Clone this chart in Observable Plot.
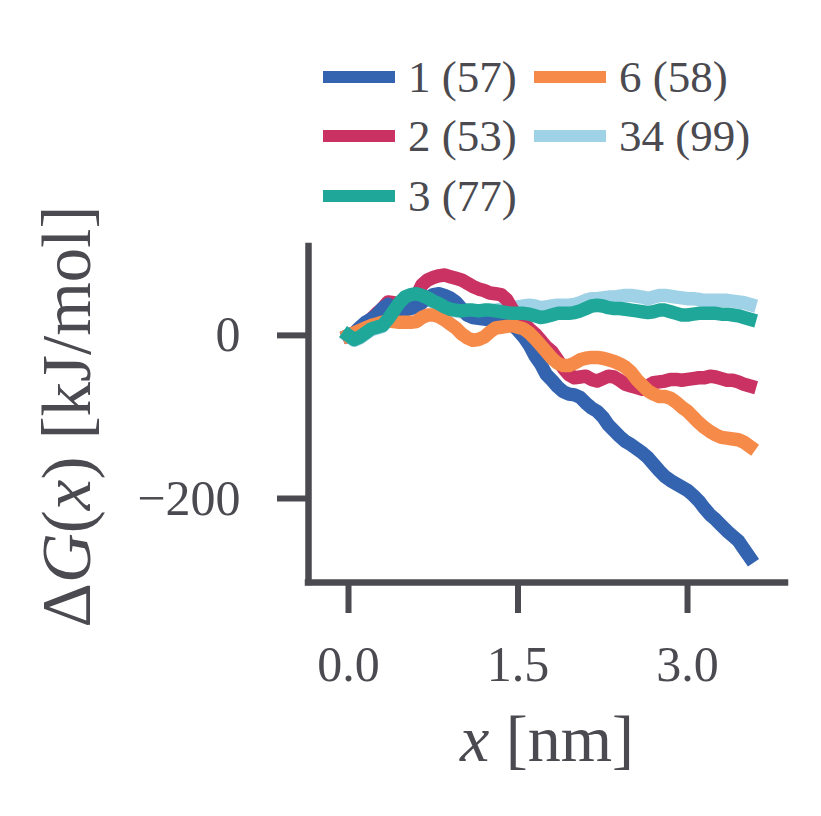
<!DOCTYPE html>
<html><head><meta charset="utf-8">
<script src="https://cdn.jsdelivr.net/npm/d3@7"></script>
<script src="https://cdn.jsdelivr.net/npm/@observablehq/plot@0.6"></script>
<style>
body{margin:0;background:#fff;}
#wrap{position:relative;width:821px;height:816px;}
#legend{position:absolute;left:323px;top:47px;display:grid;grid-auto-flow:column;grid-template-rows:repeat(3,59.5px);grid-template-columns:211px auto;font-family:"Liberation Serif",serif;font-size:45px;color:#4a4a50;}
.item{display:flex;align-items:center;white-space:pre;}
.sw{width:72px;height:12px;margin-right:13px;}
</style></head><body><div id="wrap"><div id="legend"></div><div id="chart"></div></div>
<script>
const xs = [0,0.05,0.1,0.15,0.2,0.25,0.3,0.35,0.4,0.45,
  0.5,0.55,0.6,0.65,0.7,0.75,0.8,0.85,0.9,0.95,
  1.0,1.05,1.1,1.15,1.2,1.25,1.3,1.35,1.4,1.45,
  1.5,1.55,1.6,1.65,1.7,1.75,1.8,1.85,1.9,1.95,
  2.0,2.05,2.1,2.15,2.2,2.25,2.3,2.35,2.4,2.45,
  2.5,2.55,2.6,2.65,2.7,2.75,2.8,2.85,2.9,2.95,
  3.0,3.05,3.1,3.15,3.2,3.25,3.3,3.35,3.4,3.45,
  3.5,3.55];
const g1 = [0,3,10,16,20,25,33,38,34,30,
  31,33,35,40,46,50,51,49,46,41,
  33,25,22,21,20,19,18,17,16,13,
  6,-2,-12,-25,-35,-48,-55,-63,-69,-72,
  -73,-76,-83,-89,-93,-100,-110,-117,-124,-130,
  -134,-139,-144,-150,-158,-166,-173,-178,-182,-186,
  -190,-196,-203,-212,-220,-226,-233,-240,-246,-252,
  -262,-272];
const g2 = [0,3,8,15,20,27,33,41,40,37,
  38,42,48,62,68,71,73,74,72,70,
  68,64,60,57,55,52,51,50,44,32,
  22,15,8,2,-6,-14,-20,-30,-40,-48,
  -52,-51,-50,-54,-56,-53,-50,-51,-55,-60,
  -62,-64,-66,-62,-58,-57,-56,-54,-54,-55,
  -54,-53,-52,-52,-50,-51,-53,-55,-55,-57,
  -60,-62];
const g3 = [0,-5,-2,3,8,10,12,20,30,40,
  47,50,51,49,46,42,39,35,32,31,
  30,31,31,30,31,31,30,29,28,27,
  27,27,26,24,22,23,25,27,27,27,
  28,30,33,36,37,36,34,33,33,32,
  31,30,29,28,29,31,31,29,27,25,
  25,26,27,27,27,27,26,26,25,24,
  22,20];
const g6 = [0,3,6,9,12,14,16,18,17,16,
  16,16,17,22,25,25,23,19,14,9,
  2,-3,-6,-5,-2,4,9,10,11,12,
  10,8,3,-4,-12,-20,-28,-34,-37,-37,
  -34,-30,-28,-27,-27,-28,-30,-32,-35,-39,
  -45,-54,-61,-68,-72,-75,-75,-77,-82,-88,
  -93,-100,-107,-113,-118,-122,-125,-126,-127,-128,
  -131,-136];
const g34 = [-1,-6,-3,2,7,9,11,19,29,39,
  46,49,50,48,45,41,38,34,31,30,
  29,30,30,29,30,30,31,32,33,34,
  35,36,37,36,34,35,36,37,37,37,
  38,40,43,45,45,46,47,47,48,49,
  49,48,47,45,47,49,49,48,47,46,
  45,45,44,43,43,43,43,43,42,41,
  40,38];

const seriesNames = ["1 (57)","2 (53)","3 (77)","6 (58)","34 (99)"];
const seriesValues = [g1,g2,g3,g6,g34];
const seriesColors = ["#3464b0","#c93262","#1fa799","#f68a48","#9fd2e7"];
const drawOrder = [4,1,0,3,2];
const yTicks = [-200,0];
const xTicks = [0,1.5,3.0];
const xDomain = [-0.354,3.867];
const yDomain = [-303,109];
const axisColor = "#4a4a50";

// legend
const legend = document.getElementById("legend");
seriesNames.forEach((n,i)=>{
  const d=document.createElement("div");d.className="item";
  d.innerHTML=`<span class="sw" style="background:${seriesColors[i]}"></span><span>${n}</span>`;
  legend.appendChild(d);
});

const rows = [];
seriesNames.forEach((n,i)=>xs.forEach((x,j)=>rows.push({series:n,x,y:seriesValues[i][j]})));

const lineMarks = drawOrder.map(i=>Plot.line(rows.filter(r=>r.series===seriesNames[i]),{x:"x",y:"y",stroke:seriesColors[i],strokeWidth:13.5,strokeLinecap:"square",strokeLinejoin:"round"}));

const svg = Plot.plot({
  width:821,height:816,
  marginTop:246,marginRight:36,marginBottom:234,marginLeft:308,
  style:{fontFamily:"Liberation Serif, serif",color:axisColor,background:"#fff"},
  x:{domain:xDomain},
  y:{domain:yDomain},
  marks:[
    ...lineMarks,
    Plot.ruleX([xDomain[0]],{y1:yDomain[0],y2:yDomain[1],stroke:axisColor,strokeWidth:6.5,strokeLinecap:"square"}),
    Plot.ruleY([yDomain[0]],{x1:xDomain[0],x2:xDomain[1],stroke:axisColor,strokeWidth:6.5,strokeLinecap:"square"}),
    Plot.axisX({ticks:xTicks,tickSize:31,tickPadding:32,strokeWidth:6,fontSize:50,tickFormat:d=>d.toFixed(1),label:null}),
    Plot.axisY({ticks:yTicks,tickSize:31,tickPadding:37,strokeWidth:6,fontSize:50,tickFormat:d=>d<0?"\u2212"+Math.abs(d):String(d),label:null}),
    Plot.text(["x [nm]"],{frameAnchor:"bottom",lineAnchor:"bottom",dy:178,fontSize:66,fill:axisColor}),
    Plot.text(["\u0394G(x) [kJ/mol]"],{frameAnchor:"left",textAnchor:"middle",lineAnchor:"bottom",rotate:-90,dx:-219,dy:2,fontSize:69,fill:axisColor})
  ]
});
d3.select(svg).selectAll("text").each(function(){
  const t=this.textContent;
  if(t==="x [nm]") d3.select(this).html('<tspan font-style="italic">x</tspan><tspan> [nm]</tspan>');
  else if(t==="\u0394G(x) [kJ/mol]") d3.select(this).html('<tspan>\u0394</tspan><tspan font-style="italic">G</tspan><tspan>(</tspan><tspan font-style="italic">x</tspan><tspan>) [kJ/mol]</tspan>');
});
document.getElementById("chart").appendChild(svg);
</script></body></html>
